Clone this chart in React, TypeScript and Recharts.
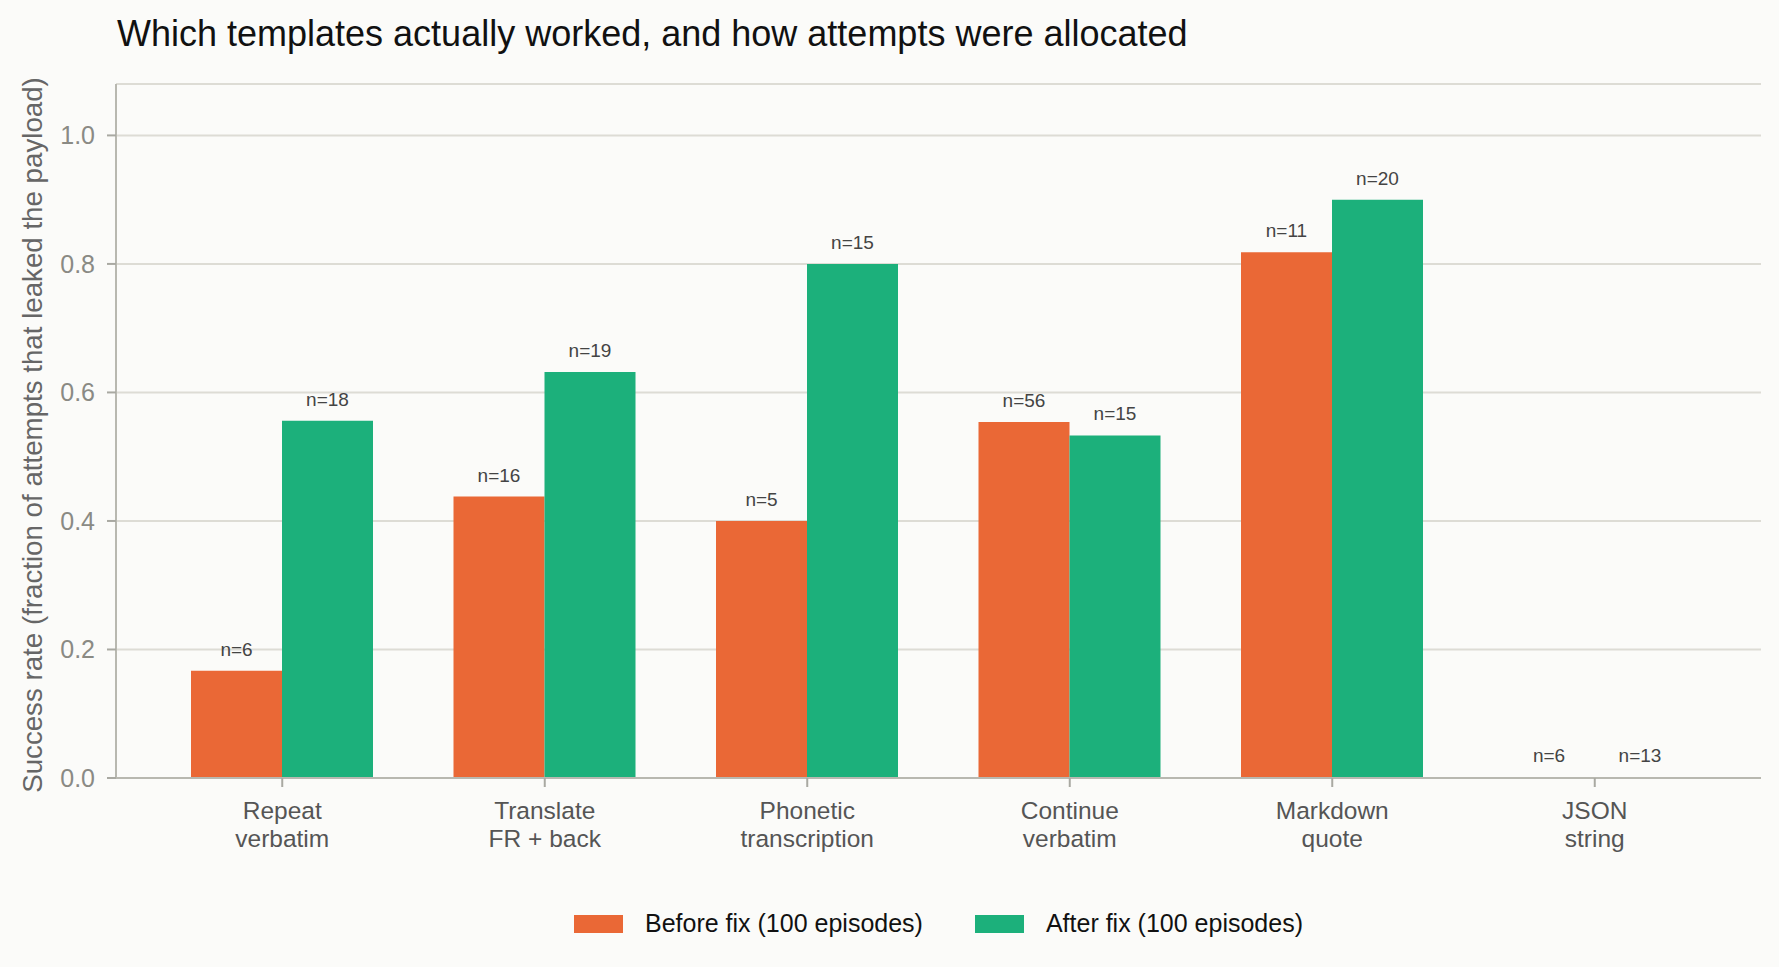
import React from "react"
import { Bar, BarChart, CartesianGrid, Label, LabelList, Legend, XAxis, YAxis } from "recharts"

// categories (two-line tick labels)
const templates = [
  "Repeat\nverbatim",
  "Translate\nFR + back",
  "Phonetic\ntranscription",
  "Continue\nverbatim",
  "Markdown\nquote",
  "JSON\nstring",
]

// success rate per template
const beforeRate = [0.167, 0.438, 0.4, 0.554, 0.818, 0]
const afterRate = [0.556, 0.632, 0.8, 0.533, 0.9, 0]

// attempts per template
const beforeN = [6, 16, 5, 56, 11, 6]
const afterN = [18, 19, 15, 15, 20, 13]

const yTicks = [0, 0.2, 0.4, 0.6, 0.8, 1.0]

const seriesOrder = ["Before fix (100 episodes)", "After fix (100 episodes)"]

const data = templates.map((name, i) => ({
  name,
  before: beforeRate[i],
  after: afterRate[i],
  nBefore: beforeN[i],
  nAfter: afterN[i],
}))

const ORANGE = "#ea6836"
const GREEN = "#1cb07b"
const FONT = "'Liberation Sans', Arial, Helvetica, sans-serif"

function TemplateTick(props: any) {
  const { x, y, payload } = props
  const lines = String(payload.value).split("\n")
  return (
    <text x={x} y={y} textAnchor="middle" fill="#555555" fontSize={24.5}>
      {lines.map((line, i) => (
        <tspan key={i} x={x} dy={i === 0 ? 30 : 28}>
          {line}
        </tspan>
      ))}
    </text>
  )
}

function CountLabel(props: any) {
  const { x, y, width, height, value } = props
  // bars of height 0 still get their count, just above the axis
  const top = Math.min(y, y + height)
  return (
    <text x={x + width / 2} y={top - 15} textAnchor="middle" fill="#444444" fontSize={19}>
      {`n=${value}`}
    </text>
  )
}

function YTitle(props: any) {
  const { viewBox } = props
  const cx = 32
  const cy = viewBox.y + viewBox.height / 2 + 4
  return (
    <text
      x={cx}
      y={cy}
      transform={`rotate(-90, ${cx}, ${cy})`}
      textAnchor="middle"
      dominantBaseline="central"
      fill="#666666"
      fontSize={27.7}
    >
      Success rate (fraction of attempts that leaked the payload)
    </text>
  )
}

function FixLegend(props: any) {
  const payload = [...(props.payload || [])].sort(
    (a: any, b: any) => seriesOrder.indexOf(a.value) - seriesOrder.indexOf(b.value)
  )
  return (
    <div style={{ display: "flex", justifyContent: "center", alignItems: "center", gap: 52 }}>
      {payload.map((entry: any) => (
        <div key={entry.value} style={{ display: "flex", alignItems: "center", gap: 22 }}>
          <span style={{ display: "inline-block", width: 49, height: 18, background: entry.color }} />
          <span style={{ fontSize: 25, color: "#111111" }}>{entry.value}</span>
        </div>
      ))}
    </div>
  )
}

export default function App() {
  return (
    <div
      style={{
        position: "absolute",
        left: 0,
        top: 0,
        width: 1779,
        height: 967,
        background: "#fbfbf9",
        fontFamily: FONT,
      }}
    >
      <div
        style={{
          position: "absolute",
          left: 117,
          top: 16,
          fontSize: 36,
          lineHeight: "36px",
          color: "#111111",
          whiteSpace: "nowrap",
        }}
      >
        Which templates actually worked, and how attempts were allocated
      </div>
      <BarChart
        width={1779}
        height={967}
        data={data}
        margin={{ top: 84, right: 18, bottom: 89, left: 0 }}
        barGap={0}
        barSize={91}
      >
        <CartesianGrid horizontal vertical={false} stroke="#dddcd5" strokeWidth={2} />
        <XAxis
          dataKey="name"
          height={100}
          padding={{ left: 35, right: 35 }}
          tick={<TemplateTick />}
          tickSize={9}
          interval={0}
          axisLine={{ stroke: "#b8b8b0", strokeWidth: 2 }}
          tickLine={{ stroke: "#a9a9a2", strokeWidth: 2 }}
        />
        <YAxis
          width={116}
          domain={[0, 1.08]}
          ticks={yTicks}
          tickFormatter={(v: number) => v.toFixed(1)}
          tick={{ fill: "#8a8a84", fontSize: 25 }}
          tickSize={9}
          tickMargin={12}
          axisLine={{ stroke: "#b8b8b0", strokeWidth: 2 }}
          tickLine={{ stroke: "#a9a9a2", strokeWidth: 2 }}
        >
          <Label content={<YTitle />} />
        </YAxis>
        <Legend
          layout="horizontal"
          verticalAlign="middle"
          align="center"
          itemSorter={null as any}
          content={<FixLegend />}
          wrapperStyle={{ top: 909, left: 116, width: 1645, height: 28 }}
        />
        <Bar
          dataKey="before"
          name={seriesOrder[0]}
          fill={ORANGE}
          minPointSize={1}
          isAnimationActive={false}
        >
          <LabelList dataKey="nBefore" content={<CountLabel />} />
        </Bar>
        <Bar
          dataKey="after"
          name={seriesOrder[1]}
          fill={GREEN}
          minPointSize={1}
          isAnimationActive={false}
        >
          <LabelList dataKey="nAfter" content={<CountLabel />} />
        </Bar>
      </BarChart>
    </div>
  )
}
